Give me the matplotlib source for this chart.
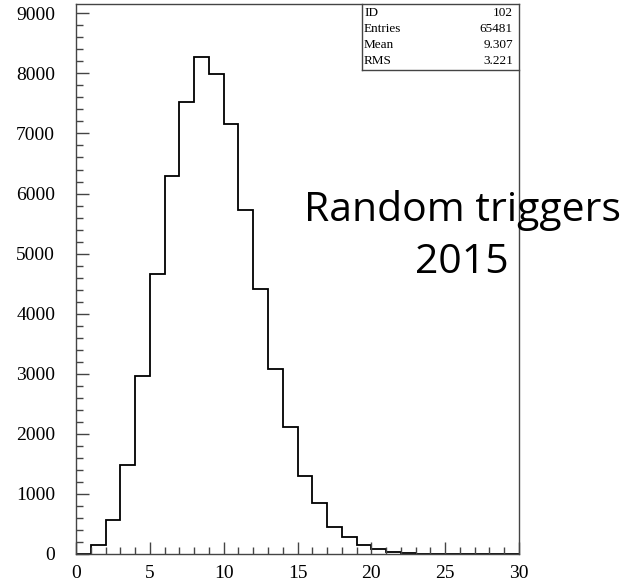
import numpy as np
import matplotlib
matplotlib.use("Agg")
import matplotlib.pyplot as plt
from matplotlib.ticker import MultipleLocator

# histogram contents, bins of width 1 from 0 to 30
bin_edges = list(range(0, 31))
counts = [0, 146, 569, 1488, 2960, 4666, 6293, 7520, 8273, 7982,
          7157, 5724, 4415, 3077, 2112, 1293, 848, 451, 279, 145,
          79, 33, 12, 0, 0, 0, 0, 0, 0, 0]

stat_names = ["ID", "Entries", "Mean", "RMS"]
stat_values = ["102", "65481", "9.307", "3.221"]

label_lines = ["Random triggers", "2015"]

fig = plt.figure(figsize=(6.27, 5.85), dpi=100)
ax = fig.add_axes([76 / 627, 1 - 554 / 585, 443 / 627, 550 / 585])

ax.stairs(counts, bin_edges, color="black", linewidth=1.3)

ax.set_xlim(0, 30)
ax.set_ylim(0, 9155)
ax.xaxis.set_major_locator(MultipleLocator(5))
ax.xaxis.set_minor_locator(MultipleLocator(1))
ax.yaxis.set_major_locator(MultipleLocator(1000))
ax.yaxis.set_minor_locator(MultipleLocator(200))
ax.tick_params(which="both", direction="in", color="#444444", width=1)
ax.tick_params(which="major", length=9, labelsize=14)
ax.tick_params(axis="y", which="major", pad=15)
ax.tick_params(axis="x", which="major", pad=8)
ax.tick_params(which="minor", length=5)
for lab in ax.get_xticklabels() + ax.get_yticklabels():
    lab.set_fontfamily("Liberation Serif")
for sp in ax.spines.values():
    sp.set_color("#444444")
    sp.set_linewidth(1)

# stats box in the top right corner
box_left = 362
box_bottom = 70
px2ax_x = lambda px: (px - 76) / 443
px2ax_y = lambda py: (554 - py) / 550
ax.plot([px2ax_x(box_left), px2ax_x(box_left)], [1, px2ax_y(box_bottom)],
        transform=ax.transAxes, color="#444444", linewidth=1, clip_on=False)
ax.plot([px2ax_x(box_left), 1], [px2ax_y(box_bottom), px2ax_y(box_bottom)],
        transform=ax.transAxes, color="#444444", linewidth=1, clip_on=False)
for i, (name, value) in enumerate(zip(stat_names, stat_values)):
    y = px2ax_y(13 + 16 * i)
    ax.text(px2ax_x(364), y, name, transform=ax.transAxes, ha="left", va="center",
            fontsize=9.5, family="Liberation Serif")
    ax.text(px2ax_x(513), y, value, transform=ax.transAxes, ha="right", va="center",
            fontsize=9.5, family="Liberation Serif")

fig.text(462 / 627, 1 - 210 / 585, label_lines[0], ha="center", va="center",
         fontsize=29.5, family="Open Sans")
fig.text(462 / 627, 1 - 263 / 585, label_lines[1], ha="center", va="center",
         fontsize=29.5, family="Open Sans")

fig.savefig("out.png", dpi=100)
